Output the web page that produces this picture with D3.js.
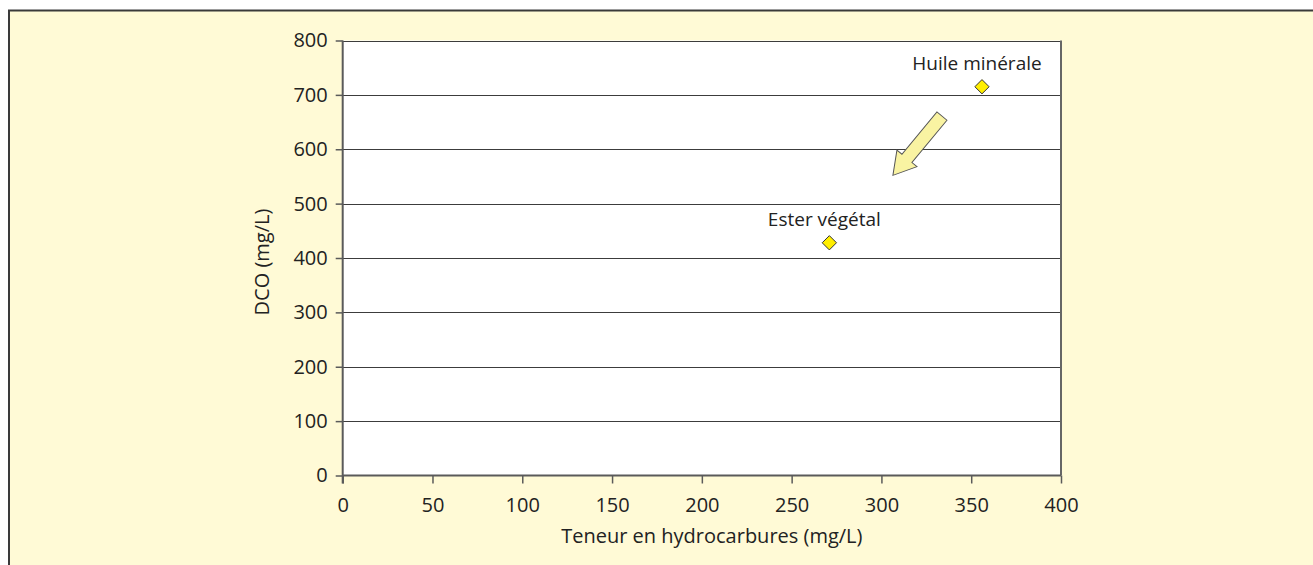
<!DOCTYPE html>
<html>
<head>
<meta charset="utf-8">
<script src="https://cdn.jsdelivr.net/npm/d3@7"></script>
<style>
  html, body { margin: 0; padding: 0; background: #ffffff; }
  svg { display: block; }
  text { font-family: "Open Sans", "Noto Sans", sans-serif; fill: #222; }
</style>
</head>
<body>
<svg id="chart" width="1313" height="565"></svg>
<script>
// ---- data ----
const seriesNames = ["Huile minérale", "Ester végétal"];
const hydrocarbures = [356, 271];   // x: Teneur en hydrocarbures (mg/L)
const dco = [715, 428];             // y: DCO (mg/L)
const xTicks = [0, 50, 100, 150, 200, 250, 300, 350, 400];
const yTicks = [0, 100, 200, 300, 400, 500, 600, 700, 800];
const arrowFrom = [333.7, 661];     // annotation arrow (data units)
const arrowTo = [306.4, 552];

const xTitle = "Teneur en hydrocarbures (mg/L)";
const yTitle = "DCO (mg/L)";

// ---- layout ----
const W = 1313, H = 565;
const plot = { left: 342.7, right: 1061, top: 40.5, bottom: 475.5 };

const svg = d3.select("#chart");

// background panel with border
svg.append("rect")
  .attr("x", 9).attr("y", 10.5)
  .attr("width", W + 20).attr("height", H + 20)
  .attr("fill", "#fffad6")
  .attr("stroke", "#3a3a3a").attr("stroke-width", 2);

const x = d3.scaleLinear().domain([0, 400]).range([plot.left, plot.right]);
const y = d3.scaleLinear().domain([0, 800]).range([plot.bottom, plot.top]);

// plot area
svg.append("rect")
  .attr("x", plot.left).attr("y", plot.top)
  .attr("width", plot.right - plot.left).attr("height", plot.bottom - plot.top)
  .attr("fill", "#ffffff");

// gridlines
svg.append("g")
  .selectAll("line")
  .data(yTicks.filter(d => d > 0))
  .join("line")
  .attr("x1", plot.left).attr("x2", plot.right)
  .attr("y1", d => Math.round(y(d)) + 0.5).attr("y2", d => Math.round(y(d)) + 0.5)
  .attr("stroke", "#3c3c3c").attr("stroke-width", 1);

// right border of plot area
svg.append("line")
  .attr("x1", plot.right).attr("x2", plot.right)
  .attr("y1", plot.top).attr("y2", plot.bottom)
  .attr("stroke", "#666").attr("stroke-width", 2);

// axes
const fontSize = 20;
const xAxis = svg.append("g")
  .attr("transform", `translate(0,${plot.bottom})`)
  .call(d3.axisBottom(x).tickValues(xTicks).tickSize(8).tickPadding(14).tickFormat(d3.format("d")));
const yAxis = svg.append("g")
  .attr("transform", `translate(${plot.left},0)`)
  .call(d3.axisLeft(y).tickValues(yTicks).tickSize(7).tickPadding(8).tickFormat(d3.format("d")));

[xAxis, yAxis].forEach(g => {
  g.attr("font-size", fontSize).attr("font-family", "'Open Sans', 'Noto Sans', sans-serif");
  g.select(".domain").attr("stroke", "#5a5a5a").attr("stroke-width", 2);
  g.selectAll(".tick line").attr("stroke", "#5a5a5a").attr("stroke-width", 1.5);
  g.selectAll(".tick text")
    .style("font-size", fontSize + "px").attr("fill", "#222");
});
xAxis.select(".domain").attr("d", `M${plot.left},0H${plot.right}`);
yAxis.select(".domain").attr("d", `M0,${plot.top}V${plot.bottom + 8}`);

// axis titles
svg.append("text")
  .attr("x", (plot.left + plot.right) / 2 + 10)
  .attr("y", 543)
  .attr("text-anchor", "middle")
  .style("font-size", fontSize + "px")
  .text(xTitle);

svg.append("text")
  .attr("transform", `translate(269,${(plot.top + plot.bottom) / 2 + 4}) rotate(-90)`)
  .attr("text-anchor", "middle")
  .style("font-size", fontSize + "px")
  .text(yTitle);

// arrow annotation
(function drawArrow() {
  const x0 = x(arrowFrom[0]), y0 = y(arrowFrom[1]);
  const x1 = x(arrowTo[0]), y1 = y(arrowTo[1]);
  const len = Math.hypot(x1 - x0, y1 - y0);
  const ang = Math.atan2(y1 - y0, x1 - x0) * 180 / Math.PI;
  const sw = 6.5, hw = 13, hl = 22;
  const pts = [[0, -sw], [len - hl, -sw], [len - hl, -hw], [len, 0], [len - hl, hw], [len - hl, sw], [0, sw]];
  svg.append("path")
    .attr("d", d3.line()(pts) + "Z")
    .attr("transform", `translate(${x0},${y0}) rotate(${ang})`)
    .attr("fill", "#f9f3a2")
    .attr("stroke", "#555").attr("stroke-width", 1);
})();

// points
const pts = seriesNames.map((n, i) => ({ name: n, x: hydrocarbures[i], y: dco[i] }));
svg.append("g")
  .selectAll("path")
  .data(pts)
  .join("path")
  .attr("d", d3.symbol().type(d3.symbolDiamond2).size(130))
  .attr("transform", d => `translate(${x(d.x)},${y(d.y)})`)
  .attr("fill", "#ffee00")
  .attr("stroke", "#333").attr("stroke-width", 1);

svg.append("g")
  .selectAll("text")
  .data(pts)
  .join("text")
  .attr("x", d => x(d.x) - 5)
  .attr("y", d => y(d.y) - 17)
  .attr("text-anchor", "middle")
  .style("font-size", "19px")
  .text(d => d.name);
</script>
</body>
</html>
